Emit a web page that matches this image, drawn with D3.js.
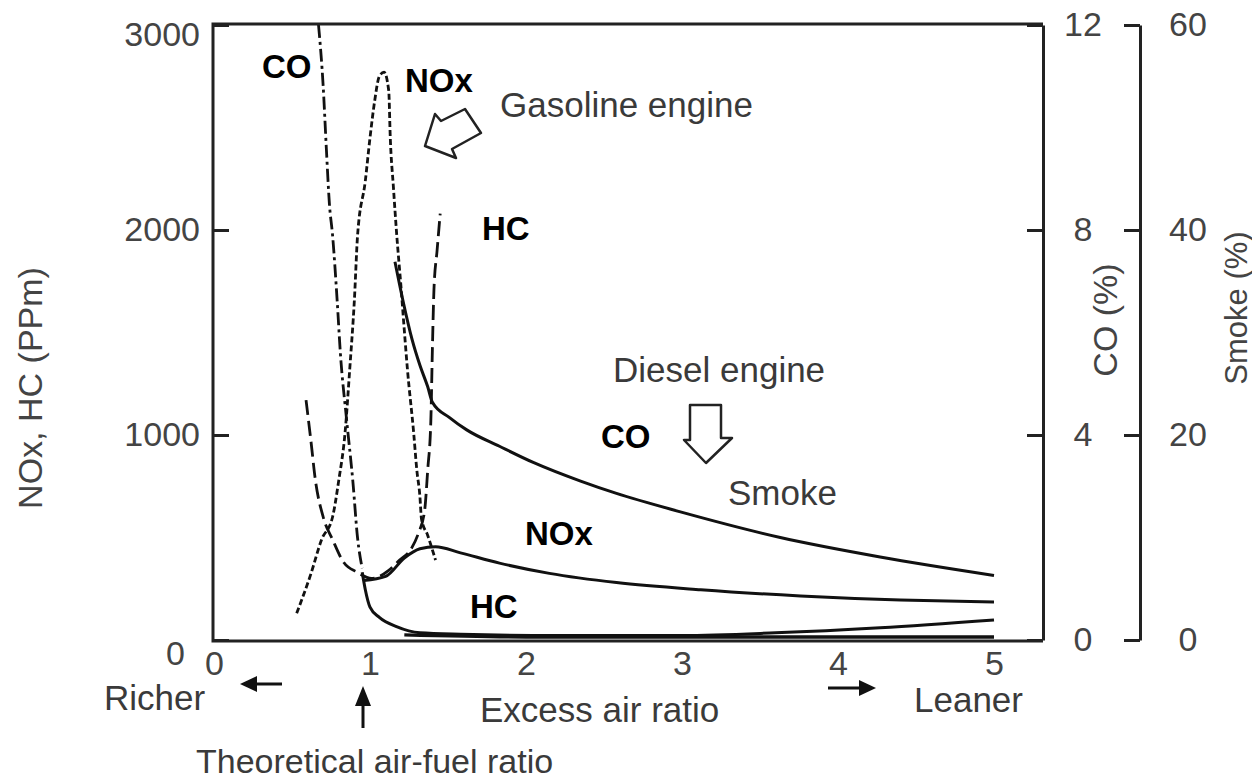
<html>
<script src="https://d3js.org/d3.v7.min.js"></script>
<body style="margin:0; background:#fff">
<svg width="1252" height="783"></svg>
<script>
// tick values
var xTicks = [0, 1, 2, 3, 4, 5];
var ppmTicks = [0, 1000, 2000, 3000];
var coTicks = [0, 4, 8, 12];
var smokeTicks = [0, 20, 40, 60];

// gasoline engine curves: [excess air ratio, value]
var gasCO = [[0.67,12.0],[0.70,10.8],[0.72,9.6],[0.74,8.5],[0.76,7.9],[0.79,6.6],[0.81,5.6],[0.85,4.3],[0.89,3.1],[0.92,2.0],[0.95,1.4]];   // CO %
var gasNOx = [[0.53,130],[0.62,320],[0.69,490],[0.76,600],[0.80,780],[0.84,1010],[0.87,1320],[0.90,1660],[0.92,1970],[0.97,2240],[1.00,2450],[1.03,2630],[1.06,2750],[1.09,2770],[1.12,2680],[1.13,2450],[1.15,2210],[1.17,1990],[1.20,1710],[1.22,1510],[1.24,1320],[1.28,1010],[1.30,830],[1.32,700],[1.33,590],[1.37,510],[1.42,390]];   // ppm
var gasHC = [[0.59,1170],[0.62,980],[0.65,780],[0.70,600],[0.76,490],[0.83,380],[0.92,330],[1.01,300],[1.12,340],[1.19,390],[1.26,440],[1.31,520],[1.35,630],[1.37,830],[1.39,1070],[1.40,1420],[1.41,1710],[1.43,1900],[1.45,2080]];   // ppm

// diesel engine curves
var dieselSmoke = [[1.16,36.9],[1.21,33.2],[1.27,29.3],[1.32,26.8],[1.37,24.7],[1.40,23.2],[1.51,21.7],[1.62,20.5],[1.83,18.9],[2.05,17.3],[2.35,15.5],[2.58,14.3],[2.99,12.5],[3.63,10.0],[4.27,8.1],[5.0,6.3]];   // smoke %
var dieselNOx = [[0.96,290],[1.10,310],[1.22,400],[1.32,445],[1.42,455],[1.58,425],[1.83,375],[2.15,325],[2.58,280],[3.12,245],[3.76,215],[4.40,195],[5.0,185]];   // ppm
var dieselHC = [[0.95,330],[0.97,245],[1.00,160],[1.06,110],[1.17,65],[1.32,35],[1.58,28],[2.20,22],[3.00,22],[3.60,35],[4.27,60],[5.0,98]];   // ppm
var dieselCO = [[1.22,0.10],[2.0,0.06],[3.0,0.06],[4.0,0.06],[5.0,0.06]];   // CO %

var font = "'Liberation Sans', Arial, sans-serif";
var svg = d3.select("svg");

// plot frame edges (px)
var fl = 213, fr = 1043, ft = 24, fb = 641;

var x = d3.scaleLinear().domain([0, 5]).range([214, 994]);
var yPpm = d3.scaleLinear().domain([0, 3000]).range([640, 25]);
var yCO = d3.scaleLinear().domain([0, 12]).range([640, 25]);
var ySmoke = d3.scaleLinear().domain([0, 60]).range([640, 25]);

svg.append("clipPath").attr("id", "plot")
    .append("rect").attr("x", fl).attr("y", ft).attr("width", fr - fl).attr("height", fb - ft);

function curve(data, yScale, dash, width) {
    var line = d3.line()
        .x(function(d) { return x(d[0]); })
        .y(function(d) { return yScale(d[1]); })
        .curve(d3.curveMonotoneX);
    svg.append("path")
        .attr("clip-path", "url(#plot)")
        .attr("d", line(data))
        .attr("fill", "none")
        .attr("stroke", "#111")
        .attr("stroke-width", width)
        .attr("stroke-dasharray", dash)
        .attr("stroke-linecap", "butt");
}

curve(gasCO, yCO, "13,4,3,4", 2.8);
curve(gasNOx, yPpm, "6,3", 2.8);
curve(gasHC, yPpm, "15,6", 2.8);
curve(dieselSmoke, ySmoke, null, 3);
curve(dieselNOx, yPpm, null, 3);
curve(dieselHC, yPpm, null, 3);
curve(dieselCO, yCO, null, 3.5);

// frame
svg.append("path")
    .attr("d", "M" + fr + "," + ft + "H" + fl + "V" + fb + "H" + fr)
    .attr("fill", "none").attr("stroke", "#222").attr("stroke-width", 3);

var fmt = d3.format("d");

// left axis
var gL = svg.append("g").attr("transform", "translate(" + fl + ",0)")
    .call(d3.axisLeft(yPpm).tickValues(ppmTicks).tickFormat(fmt).tickSizeInner(-16).tickSizeOuter(0).tickPadding(13));
gL.select(".domain").remove();
gL.selectAll("line").attr("stroke", "#222").attr("stroke-width", 3);
gL.selectAll("text").attr("font-size", 34).attr("font-family", font).attr("fill", "#444")
    .attr("dy", function(d) { return d == 3000 ? "0.6em" : d == 0 ? "0.72em" : "0.32em"; })
    .attr("x", function(d) { return d == 0 ? -28 : -13; });

// CO axis (right edge of the frame)
var gC = svg.append("g").attr("transform", "translate(" + fr + ",0)")
    .call(d3.axisRight(yCO).tickValues(coTicks).tickFormat(fmt).tickSizeInner(-16).tickSizeOuter(0).tickPadding(40));
gC.select(".domain").attr("stroke", "#222").attr("stroke-width", 3);
gC.selectAll("line").attr("stroke", "#222").attr("stroke-width", 3);
gC.selectAll("text").attr("font-size", 34).attr("font-family", font).attr("fill", "#444")
    .attr("text-anchor", "middle");

// smoke axis
var gS = svg.append("g").attr("transform", "translate(1140,0)")
    .call(d3.axisRight(ySmoke).tickValues(smokeTicks).tickFormat(fmt).tickSizeInner(-16).tickSizeOuter(0).tickPadding(48));
gS.select(".domain").attr("stroke", "#222").attr("stroke-width", 3);
gS.selectAll("line").attr("stroke", "#222").attr("stroke-width", 3);
gS.selectAll("text").attr("font-size", 34).attr("font-family", font).attr("fill", "#444")
    .attr("text-anchor", "middle");

// bottom axis labels
var gB = svg.append("g").attr("transform", "translate(0," + fb + ")")
    .call(d3.axisBottom(x).tickValues(xTicks).tickFormat(fmt).tickSize(0).tickPadding(10));
gB.select(".domain").remove();
gB.selectAll("text").attr("font-size", 34).attr("font-family", font).attr("fill", "#444");

// axis titles
function title(t, px, py, size) {
    svg.append("text").attr("transform", "translate(" + px + "," + py + ") rotate(-90)")
        .attr("text-anchor", "middle").attr("dominant-baseline", "central")
        .attr("font-family", font).attr("font-size", size).attr("fill", "#444").text(t);
}
title("NOx, HC (PPm)", 30, 388, 34);
title("CO (%)", 1105, 320, 34);
title("Smoke (%)", 1236, 308, 31);

// annotations
function label(t, px, py, bold, size) {
    svg.append("text").attr("x", px).attr("y", py)
        .attr("font-family", font).attr("font-size", size || (bold ? 33 : 35))
        .attr("font-weight", bold ? "bold" : "normal")
        .attr("fill", bold ? "#000" : "#3a3a3a").text(t);
}
label("CO", 262, 78, true);
label("NOx", 405, 92, true);
label("Gasoline engine", 500, 117, false);
label("HC", 482, 240, true);
label("Diesel engine", 613, 382, false);
label("CO", 601, 448, true);
label("Smoke", 728, 505, false);
label("NOx", 525, 545, true);
label("HC", 470, 618, true);
label("Richer", 104, 710, false);
label("Excess air ratio", 480, 722, false);
label("Leaner", 914, 712, false);
label("Theoretical air-fuel ratio", 196, 773, false, 34);

// hollow arrows
svg.append("path")
    .attr("d", "M425,146 L435,114 L441,121 L465,109 L481,133 L452,149 L456,158 Z")
    .attr("fill", "#fff").attr("stroke", "#222").attr("stroke-width", 2.5).attr("stroke-linejoin", "round");
svg.append("path")
    .attr("d", "M690,405 H721 V438 H732 L706,463 L684,440 H690 Z")
    .attr("fill", "#fff").attr("stroke", "#222").attr("stroke-width", 2.5).attr("stroke-linejoin", "round");

// filled arrows below the axis
svg.append("path").attr("d", "M282,684 H252").attr("stroke", "#111").attr("stroke-width", 3);
svg.append("path").attr("d", "M240,684 L257,676 L257,692 Z").attr("fill", "#111");
svg.append("path").attr("d", "M828,688 H862").attr("stroke", "#111").attr("stroke-width", 3);
svg.append("path").attr("d", "M876,688 L859,680 L859,696 Z").attr("fill", "#111");
svg.append("path").attr("d", "M363,728 V700").attr("stroke", "#111").attr("stroke-width", 3);
svg.append("path").attr("d", "M363,686 L355,706 L371,706 Z").attr("fill", "#111");
</script>
</body>
</html>
